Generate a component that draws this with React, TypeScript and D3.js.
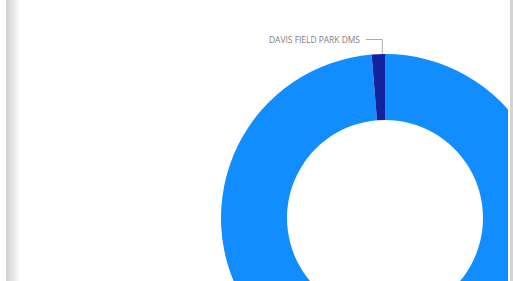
import React from "react";
import * as d3 from "d3";

const categories = ["OTHER SITES", "DAVIS FIELD PARK DMS"];
const values = [98.7, 1.3];
const colors = ["#118DFF", "#12239E"];
const labelShown = ["DAVIS FIELD PARK DMS"];

export default function App() {
  const W = 513, H = 281;
  const cx = 385, cy = 218, rOuter = 164, rInner = 98;
  const pie = d3.pie<number>().sort(null).value((d) => d)(values);
  const arc = d3.arc<d3.PieArcDatum<number>>().innerRadius(rInner).outerRadius(rOuter);
  const lblIdx = categories.indexOf(labelShown[0]);
  const sl = pie[lblIdx];
  const ang = sl.endAngle - (sl.endAngle - sl.startAngle) * 0.2;
  const ax = cx + Math.sin(ang) * (rOuter - 1);
  const ay = cy - Math.cos(ang) * (rOuter - 1);
  return (
    <svg width={W} height={H} style={{ position: "absolute", left: 0, top: 0, display: "block" }}>
      <defs>
        <linearGradient id="shadow" x1="0" x2="1" y1="0" y2="0">
          <stop offset="0" stopColor="#d2d2d2" />
          <stop offset="0.5" stopColor="#e6e6e6" />
          <stop offset="1" stopColor="#ffffff" />
        </linearGradient>
        <clipPath id="clip">
          <rect x={20} y={0} width={488} height={H} />
        </clipPath>
      </defs>
      <rect x={0} y={0} width={W} height={H} fill="#ffffff" />
      <rect x={6} y={0} width={14} height={H} fill="url(#shadow)" />
      <rect x={510} y={0} width={3} height={H} fill="#d4d4d4" />
      <g clipPath="url(#clip)">
        <g transform={`translate(${cx},${cy})`}>
          {pie.map((p, i) => (
            <path key={categories[i]} d={arc(p) || ""} fill={colors[i]} />
          ))}
        </g>
        <polyline
          points={`366,39.5 ${ax.toFixed(1)},39.5 ${ax.toFixed(1)},${(ay - 1).toFixed(1)}`}
          fill="none"
          stroke="#aaaaaa"
          strokeWidth={1}
        />
        <text
          x={269}
          y={43}
          textLength={91}
          lengthAdjust="spacingAndGlyphs"
          fontFamily="'Open Sans', sans-serif"
          fontSize={9.5}
          fill="#808080"
        >
          {labelShown[0]}
        </text>
      </g>
    </svg>
  );
}
